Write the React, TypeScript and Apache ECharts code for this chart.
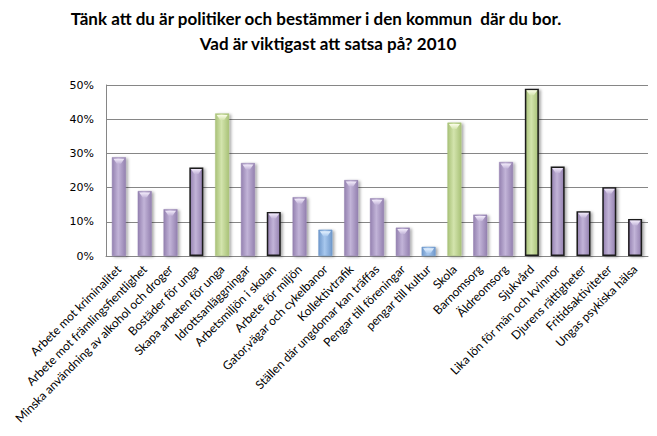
import React, { useEffect, useRef } from "react";
import * as echarts from "echarts";

const titleLines = [
  "Tänk att du är politiker och bestämmer i den kommun  där du bor.",
  "Vad är viktigast att satsa på? 2010",
];

const categories = [
  "Arbete mot kriminalitet",
  "Arbete mot främlingsfientlighet",
  "Minska användning av alkohol och droger",
  "Bostäder för unga",
  "Skapa arbeten för unga",
  "Idrottsanläggningar",
  "Arbetsmiljön i skolan",
  "Arbete för miljön",
  "Gator,vägar och cykelbanor",
  "Kollektivtrafik",
  "Ställen där ungdomar kan träffas",
  "Pengar till föreningar",
  "pengar till kultur",
  "Skola",
  "Barnomsorg",
  "Äldreomsorg",
  "Sjukvård",
  "Lika lön för män och kvinnor",
  "Djurens rättigheter",
  "Fritidsaktiviteter",
  "Ungas psykiska hälsa",
];

const values = [
  28.9, 19.0, 13.7, 25.9, 41.7, 27.2, 12.9, 17.2, 7.7, 22.2, 16.9, 8.3, 2.7,
  39.0, 12.1, 27.5, 48.9, 26.2, 13.1, 20.1, 10.8,
];

// colour group per bar: p = purple, g = green, b = blue
const groups = [
  "p", "p", "p", "p", "g", "p", "p", "p", "b", "p", "p", "p", "b",
  "g", "p", "p", "g", "p", "p", "p", "p",
];

// bars drawn with a black outline
const outlined = [3, 6, 16, 17, 18, 19, 20];

const palettes: Record<string, { edge: string; mid: string; top: string }> = {
  p: { edge: "#9481b0", mid: "#c2b4d8", top: "#f3ecfb" },
  g: { edge: "#a9c278", mid: "#d3e4ad", top: "#fbfde9" },
  b: { edge: "#6f98cb", mid: "#a8c8ee", top: "#e7f3ff" },
};

const BAR_W = 14;

export default function App() {
  const ref = useRef<HTMLDivElement>(null);

  useEffect(() => {
    if (!ref.current) return;
    const chart = echarts.init(ref.current, undefined, { renderer: "svg" });

    const barData = values.map((v, i) => {
      const p = palettes[groups[i]];
      const isOut = outlined.includes(i);
      return {
        value: v,
        itemStyle: {
          color: new echarts.graphic.LinearGradient(0, 0, 1, 0, [
            { offset: 0, color: p.edge },
            { offset: 0.45, color: p.mid },
            { offset: 1, color: p.edge },
          ]),
          borderColor: isOut ? "#1a1a1a" : p.edge,
          borderWidth: isOut ? 1.5 : 0.5,
          shadowColor: "rgba(0,0,0,0.35)",
          shadowBlur: 3,
          shadowOffsetX: 2,
          shadowOffsetY: 1,
        },
      };
    });

    const titleStyle = {
      fontFamily: "Lato",
      fontWeight: "bold",
      fontSize: 17,
      fill: "#000000",
      align: "center",
      verticalAlign: "middle",
    };

    const option: any = {
      animation: false,
      backgroundColor: "#ffffff",
      graphic: [
        {
          type: "text",
          x: 316,
          y: 18,
          style: { ...titleStyle, text: titleLines[0] },
        },
        {
          type: "text",
          x: 328,
          y: 43,
          style: { ...titleStyle, text: titleLines[1] },
        },
      ],
      grid: {
        left: 106,
        right: 9,
        top: 85,
        bottom: 180,
        containLabel: false,
      },
      xAxis: {
        type: "category",
        data: categories,
        axisLine: { show: true, lineStyle: { color: "#868686", width: 1 } },
        axisTick: { show: false },
        axisLabel: {
          interval: 0,
          rotate: 45,
          margin: 11,
          fontFamily: "Lato",
          fontSize: 12,
          color: "#000000",
        },
      },
      yAxis: {
        type: "value",
        min: 0,
        max: 50,
        interval: 10,
        axisLine: { show: true, lineStyle: { color: "#868686", width: 1 } },
        axisTick: { show: false },
        splitLine: { show: true, lineStyle: { color: "#868686", width: 1 } },
        axisLabel: {
          formatter: "{value}%",
          fontFamily: "DejaVu Sans",
          fontSize: 11,
          color: "#000000",
          margin: 12,
        },
      },
      series: [
        {
          type: "bar",
          data: barData,
          barWidth: BAR_W,
        },
        {
          type: "custom",
          data: values.map((v, i) => [i, v]),
          z: 5,
          silent: true,
          renderItem: (params: any, api: any) => {
            const i = api.value(0);
            const v = api.value(1);
            const pt = api.coord([i, v]);
            const p = palettes[groups[params.dataIndex]];
            const half = BAR_W / 2;
            const x0 = pt[0] - half + 1.5;
            const x1 = pt[0] + half - 1.5;
            const y = pt[1] + 1.5;
            return {
              type: "polygon",
              shape: {
                points: [
                  [x0, y],
                  [x1, y],
                  [pt[0] + 2, y + 5],
                  [pt[0] - 2, y + 5],
                ],
              },
              style: {
                fill: new echarts.graphic.LinearGradient(0, 0, 0, 1, [
                  { offset: 0, color: p.top },
                  { offset: 1, color: p.mid },
                ]),
                stroke: null,
              },
            };
          },
        },
      ],
    };

    chart.setOption(option);
    return () => chart.dispose();
  }, []);

  return <div ref={ref} style={{ width: 657, height: 436, margin: -8 }} />;
}
